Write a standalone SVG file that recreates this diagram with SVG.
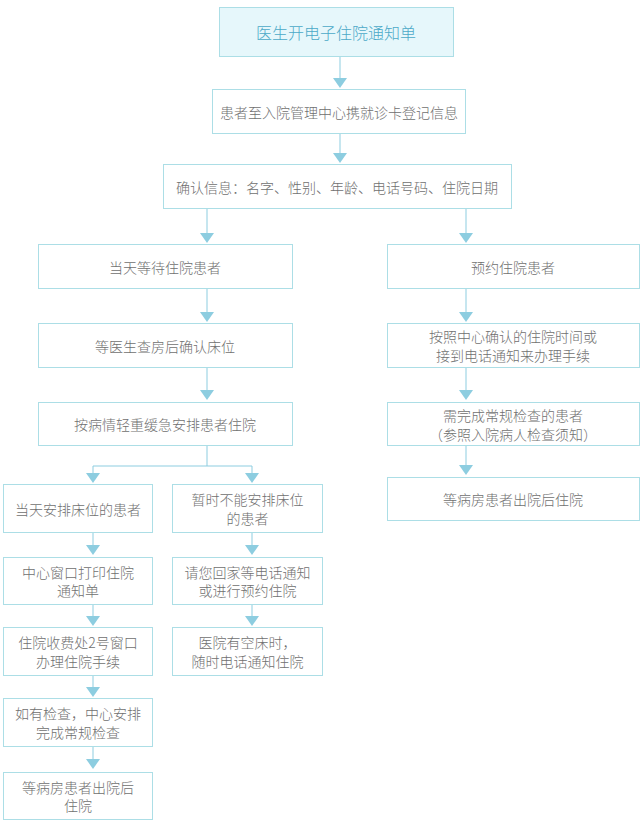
<svg xmlns="http://www.w3.org/2000/svg" width="643" height="830" viewBox="0 0 643 830">
<defs>
<style>
.box{fill:#ffffff;stroke:#acdee6;stroke-width:1}
.title{fill:#e6f7fb;stroke:#acdee6;stroke-width:1}
.t{font-family:"Noto Sans CJK SC","Noto Sans",sans-serif;font-size:14px;font-weight:300;fill:#707070;text-anchor:middle;dominant-baseline:central}
.tt{font-family:"Noto Sans CJK SC","Noto Sans",sans-serif;font-size:16px;font-weight:300;fill:#4ba9c8;text-anchor:middle;dominant-baseline:central}
.ln{fill:none;stroke:#8dcde0;stroke-width:1}
.ah{fill:#8dcde0}
</style>
</defs>
<rect width="643" height="830" fill="#ffffff"/>
<g id="connectors">
<path class="ln" d="M340 57V80M340 133V156M207 208V236M466 208V236M207 288V315M466 288V315M207 367V394M466 367V394M466 445V468M207 445V466M93 466H252M93 466V476M252 466V476M93 532V548M252 532V548M93 604V619M252 604V619M93 675V690M93 746V762"/>
<polygon class="ah" points="333,78 347,78 340,88"/>
<polygon class="ah" points="333,153 347,153 340,163"/>
<polygon class="ah" points="200,233 214,233 207,243"/>
<polygon class="ah" points="459,233 473,233 466,243"/>
<polygon class="ah" points="200,312 214,312 207,322"/>
<polygon class="ah" points="459,312 473,312 466,322"/>
<polygon class="ah" points="200,390 214,390 207,400"/>
<polygon class="ah" points="459,390 473,390 466,400"/>
<polygon class="ah" points="459,465 473,465 466,475"/>
<polygon class="ah" points="86,473 100,473 93,483"/>
<polygon class="ah" points="245,473 259,473 252,483"/>
<polygon class="ah" points="86,545 100,545 93,555"/>
<polygon class="ah" points="245,545 259,545 252,555"/>
<polygon class="ah" points="86,616 100,616 93,626"/>
<polygon class="ah" points="245,616 259,616 252,626"/>
<polygon class="ah" points="86,687 100,687 93,697"/>
<polygon class="ah" points="86,759 100,759 93,769"/>
</g>
<g id="n1"><rect class="title" x="219.5" y="7.5" width="234" height="49"/><text class="tt" x="336" y="32">医生开电子住院通知单</text></g>
<g id="n2"><rect class="box" x="212.5" y="89.5" width="253" height="44"/><text class="t" x="339" y="111.5">患者至入院管理中心携就诊卡登记信息</text></g>
<g id="n3"><rect class="box" x="163.5" y="164.5" width="348" height="44"/><text class="t" x="337" y="186.5">确认信息：名字、性别、年龄、电话号码、住院日期</text></g>
<g id="n4"><rect class="box" x="38.5" y="244.5" width="254" height="44"/><text class="t" x="165" y="266.5">当天等待住院患者</text></g>
<g id="n5"><rect class="box" x="38.5" y="323.5" width="254" height="44"/><text class="t" x="165" y="345.5">等医生查房后确认床位</text></g>
<g id="n6"><rect class="box" x="38.5" y="402.5" width="254" height="43"/><text class="t" x="165" y="424">按病情轻重缓急安排患者住院</text></g>
<g id="n7"><rect class="box" x="387.5" y="244.5" width="252" height="44"/><text class="t" x="513" y="266.5">预约住院患者</text></g>
<g id="n8"><rect class="box" x="387.5" y="323.5" width="252" height="44"/><text class="t" x="513" y="336">按照中心确认的住院时间或</text><text class="t" x="513" y="355">接到电话通知来办理手续</text></g>
<g id="n9"><rect class="box" x="387.5" y="402.5" width="252" height="43"/><text class="t" x="513" y="414.5">需完成常规检查的患者</text><text class="t" x="513" y="433.5">（参照入院病人检查须知）</text></g>
<g id="n10"><rect class="box" x="387.5" y="477.5" width="252" height="43"/><text class="t" x="513" y="499">等病房患者出院后住院</text></g>
<g id="n11"><rect class="box" x="3.5" y="484.5" width="149" height="48"/><text class="t" x="78" y="508.5">当天安排床位的患者</text></g>
<g id="n12"><rect class="box" x="3.5" y="557.5" width="149" height="47"/><text class="t" x="78" y="571.5">中心窗口打印住院</text><text class="t" x="78" y="590">通知单</text></g>
<g id="n13"><rect class="box" x="3.5" y="627.5" width="149" height="48"/><text class="t" x="78" y="642">住院收费处2号窗口</text><text class="t" x="78" y="661">办理住院手续</text></g>
<g id="n14"><rect class="box" x="3.5" y="698.5" width="149" height="48"/><text class="t" x="78" y="713">如有检查，中心安排</text><text class="t" x="78" y="732">完成常规检查</text></g>
<g id="n15"><rect class="box" x="3.5" y="772.5" width="149" height="47"/><text class="t" x="78" y="786.5">等病房患者出院后</text><text class="t" x="78" y="805">住院</text></g>
<g id="n16"><rect class="box" x="172.5" y="484.5" width="150" height="48"/><text class="t" x="247.5" y="498.5">暂时不能安排床位</text><text class="t" x="247.5" y="517.5">的患者</text></g>
<g id="n17"><rect class="box" x="172.5" y="557.5" width="150" height="47"/><text class="t" x="247.5" y="571.5">请您回家等电话通知</text><text class="t" x="247.5" y="590">或进行预约住院</text></g>
<g id="n18"><rect class="box" x="172.5" y="627.5" width="150" height="48"/><text class="t" x="247.5" y="642">医院有空床时，</text><text class="t" x="247.5" y="661">随时电话通知住院</text></g>
</svg>
